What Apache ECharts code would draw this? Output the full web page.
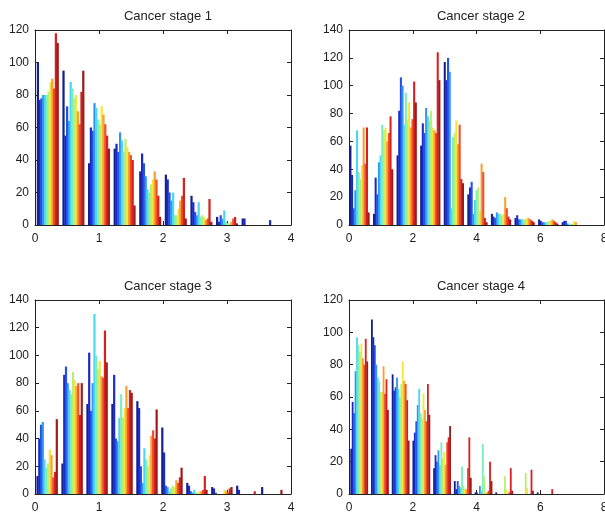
<!DOCTYPE html>
<html>
<head>
<meta charset="utf-8">
<script src="https://cdn.jsdelivr.net/npm/echarts@6/dist/echarts.min.js"></script>
<style>html,body{margin:0;padding:0;background:#fff}#c{width:605px;height:517px}</style>
</head>
<body>
<div id="c"></div>
<script>
// ---- data ----
var titles = ['Cancer stage 1', 'Cancer stage 2', 'Cancer stage 3', 'Cancer stage 4'];

var centers1 = [0.2, 0.6, 1.0, 1.4, 1.8, 2.2, 2.6, 3.0, 3.4, 3.8];
var centers2 = [0.33, 1.07, 1.81, 2.55, 3.29, 4.03, 4.77, 5.51, 6.25, 6.99];
var centers3 = [0.19, 0.58, 0.97, 1.36, 1.75, 2.14, 2.53, 2.92, 3.31, 3.70];
var centers4 = [0.32, 0.97, 1.62, 2.27, 2.92, 3.57, 4.22, 4.87, 5.52, 6.17];

// counts: one row per bin, one column per series
var counts1 = [
  [100, 77, 78, 80, 80, 80, 82, 88, 90, 84, 118, 112],
  [95, 55, 73, 64, 88, 84, 78, 80, 70, 62, 82, 95],
  [38, 60, 58, 75, 72, 65, 62, 73, 68, 62, 55, 47],
  [47, 50, 45, 57, 52, 45, 53, 48, 45, 43, 40, 12],
  [33, 44, 38, 30, 22, 20, 25, 28, 33, 28, 18, 5],
  [31, 28, 20, 15, 20, 6, 6, 10, 15, 18, 29, 4],
  [18, 14, 8, 6, 14, 5, 6, 5, 3, 4, 16, 2],
  [5, 2, 6, 4, 9, 2, 1, 1, 2, 4, 5, 1],
  [4, 4, 0, 0, 0, 0, 0, 0, 0, 0, 0, 0],
  [0, 3, 0, 0, 0, 0, 0, 0, 0, 0, 0, 0]
];
var counts2 = [
  [57, 36, 12, 25, 68, 38, 33, 43, 70, 44, 70, 9],
  [8, 34, 22, 45, 50, 72, 68, 70, 60, 66, 78, 40],
  [50, 82, 106, 100, 72, 95, 76, 88, 70, 76, 103, 88],
  [57, 73, 66, 84, 78, 75, 82, 70, 68, 66, 124, 104],
  [117, 104, 120, 110, 12, 63, 66, 75, 58, 72, 33, 30],
  [22, 27, 31, 8, 18, 25, 27, 10, 44, 38, 5, 2],
  [8, 6, 5, 9, 8, 8, 7, 8, 20, 12, 6, 4],
  [5, 7, 4, 4, 4, 4, 4, 5, 5, 4, 3, 2],
  [4, 3, 2, 2, 2, 2, 3, 3, 4, 3, 2, 1],
  [2, 3, 3, 1, 0, 1, 1, 3, 2, 0, 0, 0]
];
var counts3 = [
  [13, 40, 50, 52, 25, 19, 22, 32, 28, 12, 16, 54],
  [22, 86, 92, 80, 75, 72, 88, 82, 78, 80, 57, 80],
  [65, 102, 60, 80, 130, 100, 90, 96, 85, 84, 118, 95],
  [65, 86, 40, 38, 55, 72, 55, 62, 78, 62, 75, 73],
  [67, 62, 20, 8, 33, 25, 20, 28, 42, 46, 40, 61],
  [48, 30, 6, 5, 2, 4, 6, 5, 10, 8, 12, 19],
  [8, 6, 2, 1, 3, 1, 1, 2, 2, 3, 13, 3],
  [5, 4, 1, 0, 0, 0, 0, 3, 2, 1, 4, 5],
  [6, 3, 0, 0, 0, 0, 0, 0, 0, 0, 2, 0],
  [5, 0, 0, 0, 0, 0, 0, 0, 0, 0, 0, 3]
];
var counts4 = [
  [28, 57, 50, 76, 97, 92, 88, 93, 84, 80, 96, 82],
  [108, 97, 92, 80, 72, 70, 63, 63, 79, 62, 71, 52],
  [74, 64, 66, 72, 65, 60, 68, 82, 70, 68, 58, 33],
  [33, 38, 45, 55, 65, 50, 47, 62, 52, 45, 68, 49],
  [16, 24, 20, 27, 18, 32, 22, 26, 18, 32, 35, 42],
  [8, 3, 8, 5, 4, 17, 5, 3, 3, 16, 35, 10],
  [1, 1, 0, 5, 2, 31, 11, 1, 1, 2, 20, 8],
  [1, 0, 0, 0, 0, 0, 11, 3, 0, 1, 16, 2],
  [0, 0, 0, 0, 0, 0, 13, 4, 0, 0, 15, 2],
  [1, 0, 0, 0, 0, 0, 0, 0, 0, 0, 3, 0]
];

var xMax = [4, 8, 4, 8];
var xStep = [1, 2, 1, 2];
var yMax = [120, 140, 140, 120];
var yStep = [20, 20, 20, 20];

// ---- styles ----
var jet = ['#14208E', '#1A2AC8', '#2250E8', '#2E96F0', '#4CD8EC', '#7AEEBE',
           '#B4F078', '#F4E63A', '#F8A030', '#F05028', '#D82020', '#A01818'];
var grids = [
  {left: 35, top: 30, width: 256, height: 195},
  {left: 349, top: 30, width: 255, height: 195},
  {left: 35, top: 300, width: 256, height: 194},
  {left: 349, top: 300, width: 255, height: 194}
];
var titlePos = [[163, 5], [476, 5], [163, 275], [476, 275]];
var FONT = 'Liberation Sans';
var lineStyle = {color: '#222', width: 1};

var centers = [centers1, centers2, centers3, centers4];
var counts = [counts1, counts2, counts3, counts4];

var option = {
  animation: false,
  backgroundColor: '#fff',
  title: [], grid: [], xAxis: [], yAxis: [], series: []
};

function seriesData(pp, kk) {
  return counts[pp].map(function (row, i) { return [centers[pp][i], row[kk]]; });
}

for (var p = 0; p < 4; p++) {
  option.title.push({
    text: titles[p], left: titlePos[p][0], top: titlePos[p][1], textAlign: 'center',
    textStyle: {fontFamily: FONT, fontSize: 13, fontWeight: 'normal', color: '#222'}
  });
  option.grid.push(Object.assign({containLabel: false, outerBoundsMode: 'none'}, grids[p]));
  var xa = {
    type: 'value', gridIndex: p, min: 0, max: xMax[p], interval: xStep[p],
    splitLine: {show: false},
    axisLine: {show: true, onZero: false, lineStyle: lineStyle},
    axisTick: {show: true, inside: true, length: 4, lineStyle: lineStyle}
  };
  var ya = {
    type: 'value', gridIndex: p, min: 0, max: yMax[p], interval: yStep[p],
    splitLine: {show: false},
    axisLine: {show: true, onZero: false, lineStyle: lineStyle},
    axisTick: {show: true, inside: true, length: 4, lineStyle: lineStyle}
  };
  option.xAxis.push(Object.assign({}, xa, {position: 'bottom',
    axisLabel: {margin: 8, fontFamily: FONT, fontSize: 12, color: '#222', hideOverlap: false}}));
  option.xAxis.push(Object.assign({}, xa, {position: 'top', axisLabel: {show: false}}));
  option.yAxis.push(Object.assign({}, ya, {position: 'left',
    axisLabel: {margin: 6, fontFamily: FONT, fontSize: 12, color: '#222'}}));
  option.yAxis.push(Object.assign({}, ya, {position: 'right', axisLabel: {show: false}}));

  for (var k = 0; k < jet.length; k++) {
    option.series.push({
      type: 'bar',
      xAxisIndex: 2 * p, yAxisIndex: 2 * p,
      barGap: '-20%', barCategoryGap: '14%',
      itemStyle: {color: jet[k]},
      data: seriesData(p, k)
    });
  }
}

var chart = echarts.init(document.getElementById('c'), null, {renderer: 'canvas'});
chart.setOption(option);
</script>
</body>
</html>
